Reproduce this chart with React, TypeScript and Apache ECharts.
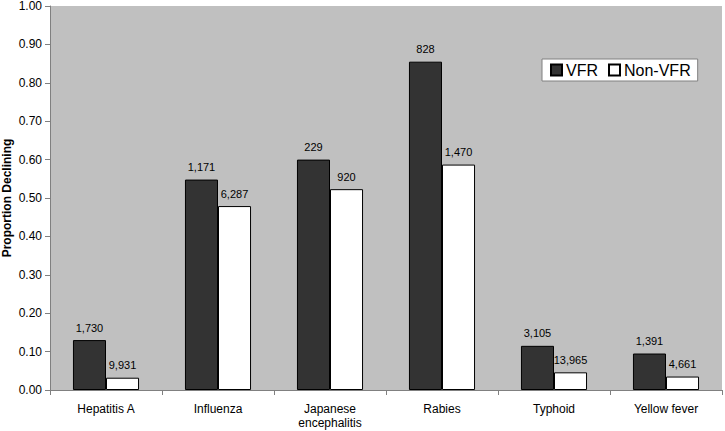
import React, { useEffect, useRef } from "react";
import * as echarts from "echarts";

const categories = ["Hepatitis A", "Influenza", "Japanese\nencephalitis", "Rabies", "Typhoid", "Yellow fever"];
const vfrValues = [0.13, 0.548, 0.6, 0.855, 0.115, 0.095];
const nonVfrValues = [0.032, 0.479, 0.523, 0.587, 0.046, 0.035];
const vfrCounts = ["1,730", "1,171", "229", "828", "3,105", "1,391"];
const nonVfrCounts = ["9,931", "6,287", "920", "1,470", "13,965", "4,661"];

const FONT = "'Liberation Sans', Arial, sans-serif";

export default function App() {
  const ref = useRef<HTMLDivElement>(null);
  useEffect(() => {
    if (!ref.current) return;
    const chart = echarts.init(ref.current, null, { renderer: "svg" });
    chart.setOption({
      animation: false,
      textStyle: { fontFamily: FONT },
      grid: {
        left: 50,
        right: 3,
        top: 6,
        bottom: 41,
        containLabel: false,
        outerBoundsMode: "none",
        show: true,
        backgroundColor: "#c0c0c0",
        borderWidth: 0,
      },
      legend: {
        left: 542,
        top: 59,
        itemWidth: 11,
        itemHeight: 11,
        itemGap: 10,
        icon: "rect",
        backgroundColor: "#ffffff",
        borderColor: "#808080",
        borderWidth: 1,
        borderRadius: 0,
        padding: [3, 7, 3, 8],
        textStyle: { fontSize: 16, color: "#000", fontFamily: FONT, padding: [0, 0, 0, -1] },
        data: ["VFR", "Non-VFR"],
      },
      xAxis: {
        type: "category",
        data: categories,
        axisLine: { lineStyle: { color: "#808080", width: 1 } },
        axisTick: { show: true, length: 5, lineStyle: { color: "#808080" } },
        axisLabel: { color: "#000", fontSize: 12, margin: 12, lineHeight: 14, interval: 0, fontFamily: FONT },
      },
      yAxis: {
        type: "value",
        min: 0,
        max: 1,
        interval: 0.1,
        name: "Proportion Declining",
        nameLocation: "middle",
        nameGap: 37,
        nameMoveOverlap: false,
        nameTextStyle: { fontWeight: "bold", fontSize: 12, lineHeight: 12, color: "#000", fontFamily: FONT },
        splitLine: { show: false },
        axisLine: { show: true, lineStyle: { color: "#808080", width: 1 } },
        axisTick: { show: true, length: 5, lineStyle: { color: "#808080" } },
        axisLabel: {
          color: "#000",
          fontSize: 12,
          lineHeight: 11,
          margin: 8,
          fontFamily: FONT,
          formatter: (v: number) => v.toFixed(2),
        },
      },
      series: [
        {
          name: "VFR",
          type: "bar",
          data: vfrValues,
          barGap: "0%",
          barCategoryGap: "41%",
          itemStyle: { color: "#333333", borderColor: "#000", borderWidth: 1 },
          label: {
            show: true,
            position: "top",
            distance: 7,
            fontSize: 11,
            color: "#000",
            fontFamily: FONT,
            formatter: (p: any) => vfrCounts[p.dataIndex],
          },
        },
        {
          name: "Non-VFR",
          type: "bar",
          data: nonVfrValues,
          itemStyle: { color: "#ffffff", borderColor: "#000", borderWidth: 1 },
          label: {
            show: true,
            position: "top",
            distance: 7,
            fontSize: 11,
            color: "#000",
            fontFamily: FONT,
            formatter: (p: any) => nonVfrCounts[p.dataIndex],
          },
        },
      ],
    });
    return () => chart.dispose();
  }, []);
  return <div ref={ref} style={{ width: 725, height: 431, position: "absolute", left: 0, top: 0 }} />;
}
